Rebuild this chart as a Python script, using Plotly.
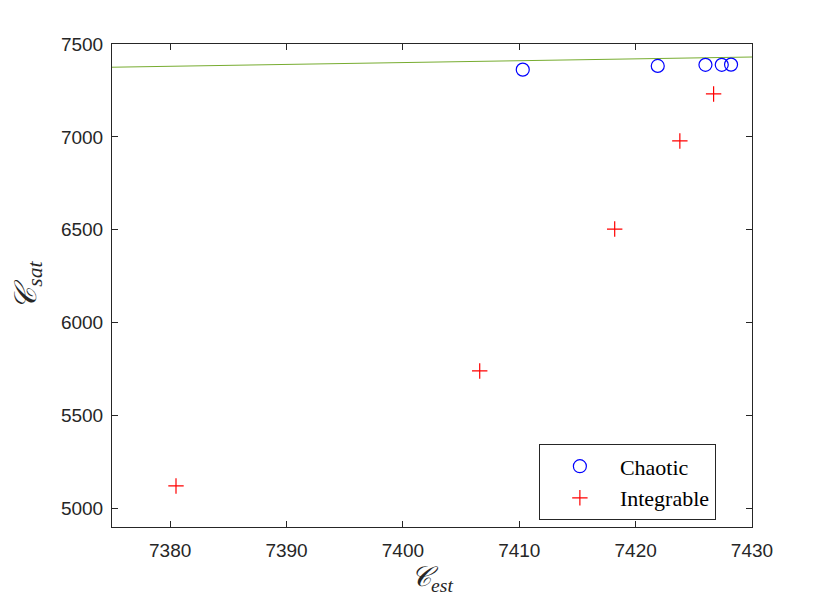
import plotly.graph_objects as go

# data
chaotic_est = [7410.3, 7421.9, 7426.0, 7427.4, 7428.2]
chaotic_sat = [7362, 7382, 7388, 7388, 7389]
integrable_est = [7380.5, 7406.6, 7418.2, 7423.8, 7426.7]
integrable_sat = [5121, 5740, 6504, 6978, 7231]
identity_est = [7375, 7430]
identity_sat = [7375, 7430]

x_ticks = [7380, 7390, 7400, 7410, 7420, 7430]
y_ticks = [5000, 5500, 6000, 6500, 7000, 7500]

axis_color = "#262626"

fig = go.Figure()
fig.add_trace(
    go.Scatter(
        x=identity_est,
        y=identity_sat,
        mode="lines",
        line={"color": "#77AC30", "width": 1},
        showlegend=False,
        hoverinfo="skip",
    )
)
fig.add_trace(
    go.Scatter(
        x=chaotic_est,
        y=chaotic_sat,
        mode="markers",
        marker={"symbol": "circle-open", "size": 13, "color": "#0000ff", "line": {"width": 1.2}},
        name="Chaotic",
    )
)
fig.add_trace(
    go.Scatter(
        x=integrable_est,
        y=integrable_sat,
        mode="markers",
        marker={"symbol": "cross-thin-open", "size": 11, "color": "#ff0000", "line": {"width": 1.2, "color": "#ff0000"}},
        name="Integrable",
    )
)

axis_style = {
    "showline": True,
    "linecolor": axis_color,
    "linewidth": 1,
    "mirror": "ticks",
    "ticks": "inside",
    "ticklen": 6,
    "tickcolor": axis_color,
    "showgrid": False,
    "zeroline": False,
    "tickfont": {"family": "Liberation Sans, Arial, sans-serif", "size": 19, "color": axis_color},
}

# page body adds an 8px offset, margins compensate for it
fig.update_layout(
    width=830,
    height=608,
    paper_bgcolor="white",
    plot_bgcolor="white",
    margin={"l": 104, "r": 86, "t": 36, "b": 89},
    xaxis={
        **axis_style,
        "range": [7375, 7430],
        "tickvals": x_ticks,
        "ticklabelstandoff": 6,
        "title": {
            "text": "<i>𝒞<sub>est</sub></i>",
            "font": {"family": "Liberation Serif, serif", "size": 28, "color": axis_color},
            "standoff": 2,
        },
    },
    yaxis={
        **axis_style,
        "range": [4900, 7500],
        "tickvals": y_ticks,
        "ticklabelstandoff": 4,
        "title": {
            "text": "<i>𝒞<sub>sat</sub></i>",
            "font": {"family": "Liberation Serif, serif", "size": 31, "color": axis_color},
            "standoff": 20,
        },
    },
    legend={
        "x": 0.667,
        "y": 0.171,
        "xanchor": "left",
        "yanchor": "top",
        "bordercolor": axis_color,
        "borderwidth": 1,
        "bgcolor": "white",
        "font": {"family": "Liberation Serif, serif", "size": 22, "color": "black"},
        "itemwidth": 70,
        "entrywidth": 110,
        "entrywidthmode": "pixels",
        "tracegroupgap": 0,
    },
    showlegend=True,
)

fig.write_html("out.html")
